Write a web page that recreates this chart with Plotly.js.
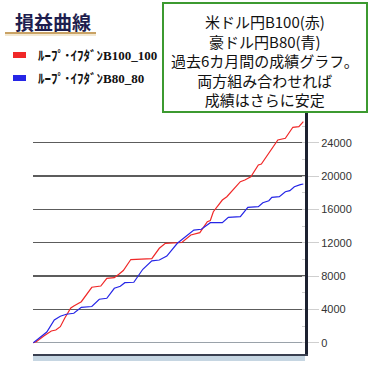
<!DOCTYPE html>
<html><head><meta charset="utf-8">
<script src="https://cdn.plot.ly/plotly-3.0.1.min.js"></script>
<style>html,body{margin:0;padding:0;background:#fff;}#c{width:369px;height:368px;}</style>
</head><body><div id="c"></div>
<script>
// Data (x = day index over ~6 months, y = cumulative profit)
const redDays = [0,2,7,12,15,18,21,25,27,30,32,39,45,49,54,57,60,65,79,84,88,99,105,111,116,118,120,126,129,138,141,145,150,152,163,168,173,177,180];
const redValues = [0,120,800,1400,1520,1920,2960,4160,4400,4730,4920,6650,6800,7730,7800,8210,8660,9980,10080,11330,11930,12020,12920,13200,14520,14660,15720,17120,17520,19320,19520,19920,21320,21440,24320,24530,25850,25920,26520];
const blueDays = [0,6,9,14,18,22,27,32,39,44,49,54,58,61,67,73,79,84,89,96,99,102,107,112,118,126,130,138,143,150,153,157,159,164,168,171,174,178,180];
const blueValues = [0,860,1280,2720,3170,3410,3530,4250,4340,5210,5330,6530,6770,7200,7250,8810,9830,9920,10400,11930,12350,12720,13520,13610,14400,14400,15050,15120,16250,16320,16800,17040,17450,17520,18120,18240,18720,18960,19040];
const seriesNames = ['ﾙｰﾌﾟ･ｲﾌﾀﾞﾝB100_100','ﾙｰﾌﾟ･ｲﾌﾀﾞﾝB80_80'];
const seriesColors = ['#f02828','#2626e6'];
const yTicks = [0,4000,8000,12000,16000,20000,24000];
const chartTitle = '損益曲線';
const noteLines = ['米ドル円B100(赤)','豪ドル円B80(青)','過去6カ月間の成績グラフ。','両方組み合わせれば','成績はさらに安定'];

// pixel helpers for paper coords
const L=33, R=305, T=109, B=354;
const px = v => (v - L) / (R - L);
const py = v => (B - v) / (B - T);

const traces = [
  {x: redDays, y: redValues, type:'scatter', mode:'lines', name: seriesNames[0], line:{color:seriesColors[0], width:1.2}, showlegend:false},
  {x: blueDays, y: blueValues, type:'scatter', mode:'lines', name: seriesNames[1], line:{color:seriesColors[1], width:1.2}, showlegend:false}
];

const shapes = [
  {type:'rect', xref:'paper', yref:'paper', x0:0, x1:1, y0:py(361), y1:py(355), fillcolor:'#c6d6e2', line:{width:0}, layer:'below'},
  {type:'line', xref:'paper', yref:'paper', x0:px(5), x1:px(96), y0:py(33), y1:py(33), line:{color:'#c9a264', width:2}},
  {type:'line', xref:'paper', yref:'paper', x0:px(5), x1:px(96), y0:py(35), y1:py(35), line:{color:'#efe0c2', width:1.5}},
  {type:'rect', xref:'paper', yref:'paper', x0:px(13), x1:px(26), y0:py(58), y1:py(52), fillcolor:seriesColors[0], line:{width:0}},
  {type:'rect', xref:'paper', yref:'paper', x0:px(13), x1:px(26), y0:py(81), y1:py(75), fillcolor:seriesColors[1], line:{width:0}},
  {type:'rect', xref:'paper', yref:'paper', x0:px(163), x1:px(367), y0:py(112), y1:py(3), fillcolor:'#ffffff', line:{color:'#3c9a30', width:2}, layer:'above'}
];

const annotations = [
  {xref:'paper', yref:'paper', x:px(13), y:py(22), xanchor:'left', yanchor:'middle', showarrow:false, text:'<b>'+chartTitle+'</b>', font:{family:'Noto Sans CJK JP', size:19, color:'#1e1e4e'}},
  {xref:'paper', yref:'paper', x:px(36), y:py(55), xanchor:'left', yanchor:'middle', showarrow:false, text:'<b>'+seriesNames[0]+'</b>', font:{family:'Liberation Serif, Noto Sans CJK JP', size:13, color:'#111'}},
  {xref:'paper', yref:'paper', x:px(36), y:py(78), xanchor:'left', yanchor:'middle', showarrow:false, text:'<b>'+seriesNames[1]+'</b>', font:{family:'Liberation Serif, Noto Sans CJK JP', size:13, color:'#111'}},
  {xref:'paper', yref:'paper', x:px(265), y:py(60.5), xanchor:'center', yanchor:'middle', align:'center', showarrow:false, text:noteLines.join('<br>'), font:{family:'Noto Sans CJK JP', size:15, color:'#111'}}
];

const layout = {
  width:369, height:368,
  margin:{l:L, r:369-R, t:T, b:368-B, pad:0},
  paper_bgcolor:'#fff', plot_bgcolor:'#fff',
  showlegend:false,
  xaxis:{range:[-0.2,181.1], showgrid:false, zeroline:false, showticklabels:false, ticks:'', showline:true, linecolor:'#3a4050', linewidth:1.5, fixedrange:true},
  yaxis:{side:'right', range:[-1356,28044], tickvals:yTicks, ticktext:yTicks.map(String),
    showgrid:true, gridcolor:'#5c5c5c', gridwidth:1.5,
    zeroline:true, zerolinecolor:'#9aa2aa', zerolinewidth:1.5,
    showline:true, linecolor:'#1c2130', linewidth:3,
    ticks:'outside', ticklen:11, tickcolor:'#cfcfcf', tickwidth:1,
    minor:{dtick:2000, tick0:0, ticks:'inside', ticklen:3, tickcolor:'#d0d0d0', showgrid:false},
    tickfont:{family:'Liberation Sans, Arial', size:11, color:'#333'}, fixedrange:true},
  shapes:shapes, annotations:annotations
};
Plotly.newPlot('c', traces, layout, {displayModeBar:false, staticPlot:true});
</script></body></html>
